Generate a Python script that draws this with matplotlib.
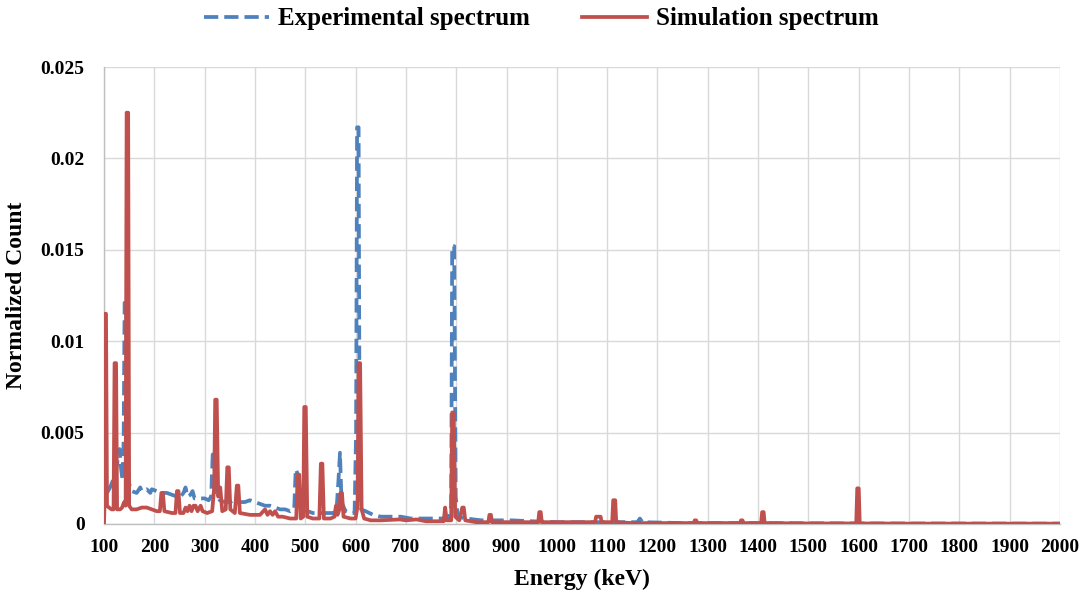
import matplotlib
matplotlib.use("Agg")
import matplotlib.pyplot as plt
from matplotlib.ticker import FixedLocator

# Experimental spectrum (energy keV, normalized count)
exp_energy = [106, 112, 118, 124, 128, 131, 134, 137, 139, 141, 144, 147, 150, 155,
              165, 172, 175, 185, 192, 195, 205, 215, 225, 235, 245, 252, 258, 262,
              266, 272, 276, 280, 290, 300, 308, 313, 316, 319, 322, 330, 340, 350,
              360, 370, 380, 390, 400, 410, 420, 430, 440, 450, 460, 470, 478, 481,
              484, 488, 495, 505, 515, 530, 545, 555, 562, 566, 569, 572, 580, 590,
              598, 601, 603, 606, 608, 611, 620, 635, 650, 670, 690, 710, 730, 750,
              770, 785, 790, 792, 796, 799, 803, 820, 850, 880, 910, 950, 1000, 1050,
              1100, 1160, 1165, 1170, 1250, 1400, 1600, 2000]
exp_count = [0.0017, 0.0020, 0.0024, 0.0030, 0.0036, 0.0041, 0.0030, 0.0024, 0.0045,
             0.0121, 0.0121, 0.0040, 0.0022, 0.0018, 0.0017, 0.0020, 0.0018, 0.0019,
             0.0017, 0.0019, 0.0018, 0.0017, 0.0017, 0.0016, 0.0015, 0.0015, 0.0017,
             0.0020, 0.0015, 0.0016, 0.0018, 0.0014, 0.0014, 0.0014, 0.0013, 0.0015,
             0.0038, 0.0038, 0.0018, 0.0013, 0.0012, 0.0012, 0.0013, 0.0012, 0.0012,
             0.0013, 0.0012, 0.0011, 0.0010, 0.0010, 0.0009, 0.0008, 0.0008, 0.0007,
             0.0008, 0.0030, 0.0028, 0.0008, 0.0007, 0.0007, 0.0006, 0.0006, 0.0006,
             0.0006, 0.0007, 0.0024, 0.0039, 0.0012, 0.0007, 0.0006, 0.0006, 0.0050,
             0.0217, 0.0217, 0.0040, 0.0008, 0.0007, 0.0005, 0.0004, 0.0004, 0.0004,
             0.0003, 0.0003, 0.0003, 0.0003, 0.0003, 0.0010, 0.0152, 0.0152, 0.0015,
             0.0004, 0.0003, 0.0002, 0.0002, 0.0002, 0.00015, 0.0001, 0.0001, 0.0001,
             0.0001, 0.0003, 0.0001, 0.00005, 0.00005, 0.00003, 0.00002]

# Simulation spectrum (energy keV, normalized count)
sim_energy = [100, 101, 102, 104, 106, 110, 115, 119, 121, 124, 126, 132, 136, 140,
              143, 145, 148, 150, 155, 165, 175, 185, 195, 205, 211, 214, 217, 220,
              235, 242, 245, 248, 251, 258, 262, 266, 270, 274, 278, 282, 286, 292,
              296, 305, 315, 319, 321, 324, 327, 331, 335, 342, 345, 348, 351, 360,
              364, 367, 370, 390, 410, 420, 425, 430, 435, 440, 446, 455, 470, 482,
              485, 488, 491, 496, 498, 501, 504, 515, 528, 531, 534, 537, 550, 558,
              561, 564, 568, 570, 573, 576, 590, 600, 604, 606, 609, 612, 617, 630,
              650, 688, 700, 721, 740, 775, 778, 781, 790, 792, 795, 798, 806, 812,
              815, 818, 840, 864, 866, 869, 871, 900, 930, 963, 965, 968, 970, 1000,
              1040, 1076, 1078, 1083, 1087, 1089, 1110, 1112, 1116, 1118, 1150, 1200,
              1272, 1274, 1277, 1279, 1364, 1366, 1369, 1371, 1406, 1408, 1411, 1413,
              1500, 1595, 1597, 1600, 1602, 1700, 2000]
sim_count = [0.0000, 0.0010, 0.0115, 0.0115, 0.0010, 0.0009, 0.0008, 0.0008, 0.0088,
             0.0088, 0.0008, 0.0008, 0.0009, 0.0012, 0.0010, 0.0225, 0.0225, 0.0010,
             0.0008, 0.0008, 0.0009, 0.0009, 0.0008, 0.0007, 0.0007, 0.0017, 0.0017,
             0.0007, 0.0006, 0.0006, 0.0018, 0.0018, 0.0006, 0.0006, 0.0009, 0.0007,
             0.0010, 0.0007, 0.0010, 0.0010, 0.0007, 0.0010, 0.0007, 0.0006, 0.0007,
             0.0020, 0.0068, 0.0068, 0.0015, 0.0020, 0.0007, 0.0008, 0.0031, 0.0031,
             0.0008, 0.0006, 0.0021, 0.0021, 0.0006, 0.0005, 0.0005, 0.0008, 0.0005,
             0.0007, 0.0005, 0.0007, 0.0004, 0.0004, 0.0003, 0.0003, 0.0027, 0.0027,
             0.0003, 0.0004, 0.0064, 0.0064, 0.0004, 0.0003, 0.0003, 0.0033, 0.0033,
             0.0003, 0.0003, 0.0004, 0.0010, 0.0005, 0.0008, 0.0017, 0.0017, 0.0004,
             0.0003, 0.0003, 0.0010, 0.0088, 0.0088, 0.0008, 0.0003, 0.0002, 0.0002,
             0.00025, 0.0002, 0.00025, 0.00015, 0.00015, 0.0009, 0.0002, 0.0002,
             0.0061, 0.0061, 0.0004, 0.0002, 0.0009, 0.0009, 0.0002, 0.0001, 0.0001,
             0.0005, 0.0005, 0.0001, 0.0001, 0.0001, 0.0001, 0.00065, 0.00065, 0.0001,
             0.0001, 0.0001, 0.0001, 0.0004, 0.0004, 0.0004, 0.0001, 0.0001, 0.0013,
             0.0013, 0.0001, 0.00005, 0.00005, 0.00005, 0.0002, 0.0002, 0.00005,
             0.00005, 0.0002, 0.0002, 0.00005, 0.00005, 0.00065, 0.00065, 0.00005,
             0.00003, 0.00003, 0.00195, 0.00195, 0.00003, 0.00002, 0.00002]

x_ticks = list(range(100, 2001, 100))
y_ticks = [0, 0.005, 0.01, 0.015, 0.02, 0.025]
y_tick_labels = ["0", "0.005", "0.01", "0.015", "0.02", "0.025"]

blue = "#4F81BD"
red = "#C0504D"
font = "Liberation Serif"

fig = plt.figure(figsize=(10.83, 5.97), dpi=100)
ax = fig.add_axes([104/1083, 1-524/597, (1060-104)/1083, (524-67)/597])

ax.plot(exp_energy, exp_count, color=blue, lw=2.7, linestyle=(0, (3.8, 1.6)),
        label="Experimental spectrum", zorder=3)
ax.plot(sim_energy, sim_count, color=red, lw=2.7, solid_joinstyle="round",
        label="Simulation spectrum", zorder=4)

ax.set_xlim(100, 2000)
ax.set_ylim(0, 0.025)
ax.xaxis.set_major_locator(FixedLocator(x_ticks))
ax.yaxis.set_major_locator(FixedLocator(y_ticks))
ax.set_yticklabels(y_tick_labels)
ax.grid(True, color="#D9D9D9", lw=1.0, zorder=0)
ax.set_axisbelow(True)
for s in ["top", "right"]:
    ax.spines[s].set_visible(False)
for s in ["left", "bottom"]:
    ax.spines[s].set_color("#BFBFBF")
    ax.spines[s].set_linewidth(1.0)
ax.tick_params(length=0, labelsize=14)
ax.tick_params(axis="x", pad=11)
ax.tick_params(axis="y", pad=14)
for lab in ax.get_xticklabels() + ax.get_yticklabels():
    lab.set_fontfamily(font)
    lab.set_fontweight("bold")

ax.set_xlabel("Energy (keV)", fontsize=17, fontfamily=font, fontweight="bold", labelpad=9)
ax.set_ylabel("Normalized Count", fontsize=17, fontfamily=font, fontweight="bold", labelpad=10)

leg = fig.legend(loc="center", bbox_to_anchor=(0.5, 1-19/597), ncol=2, frameon=False,
                 prop={"family": font, "weight": "bold", "size": 18},
                 handlelength=2.6, handletextpad=0.35, columnspacing=2.1)

fig.savefig("out.png", dpi=100)
